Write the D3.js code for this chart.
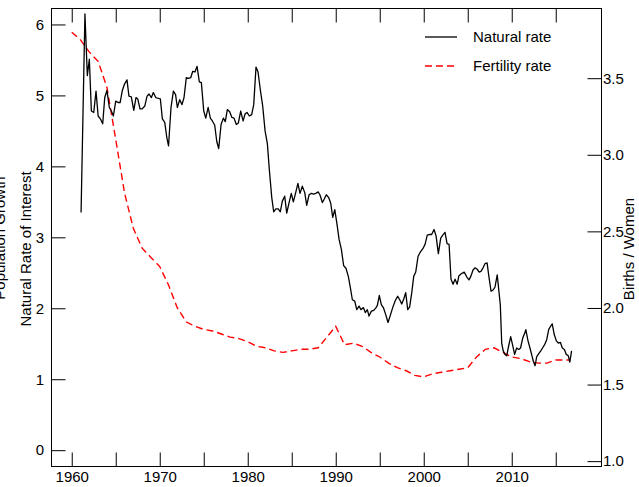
<!DOCTYPE html>
<html><head><meta charset="utf-8">
<script src="https://cdn.jsdelivr.net/npm/d3@7"></script>
<style>body{margin:0;background:#fff}svg{display:block}</style>
</head><body><svg id="c" width="639" height="487"></svg>
<script>
// ---- data ----
const natural = [
[1961.06,3.35],[1961.5,6.15],[1961.77,5.28],[1962.0,5.51],[1962.23,4.78],[1962.5,4.76],[1962.76,5.06],[1963.0,4.71],[1963.25,4.67],[1963.52,4.60],[1963.75,4.97],[1964.0,5.07],[1964.27,4.83],[1964.5,4.78],[1964.73,4.71],[1965.0,4.92],[1965.26,4.90],[1965.5,4.90],[1965.75,5.07],[1966.0,5.16],[1966.28,5.22],[1966.5,4.99],[1966.77,4.98],[1967.05,4.79],[1967.3,4.97],[1967.5,4.95],[1967.76,4.81],[1968.0,4.81],[1968.3,4.85],[1968.56,4.99],[1968.78,5.02],[1969.05,4.97],[1969.27,5.04],[1969.55,4.97],[1969.8,4.96],[1970.07,4.95],[1970.3,4.67],[1970.57,4.62],[1970.8,4.41],[1971.0,4.29],[1971.28,4.83],[1971.55,5.06],[1971.8,5.01],
[1972.0,4.83],[1972.27,4.94],[1972.53,4.87],[1972.76,4.97],[1973.02,5.25],[1973.25,5.24],[1973.52,5.25],[1973.75,5.34],[1974.0,5.33],[1974.24,5.41],[1974.5,5.19],[1974.73,5.18],[1975.0,4.78],[1975.23,4.68],[1975.5,4.83],[1975.75,4.68],[1975.98,4.64],[1976.25,4.58],[1976.48,4.35],[1976.7,4.25],[1976.97,4.59],[1977.23,4.68],[1977.45,4.63],[1977.68,4.80],[1977.95,4.77],[1978.2,4.69],[1978.44,4.68],[1978.7,4.59],[1978.93,4.61],[1979.2,4.78],[1979.47,4.64],[1979.7,4.74],[1979.92,4.76],[1980.18,4.71],[1980.45,4.73],[1980.68,4.87],[1980.94,5.40],[1981.17,5.33],[1981.43,5.08],[1981.7,4.85],[1981.97,4.50],[1982.23,4.32],[1982.45,3.96],[1982.73,3.56],[1982.95,3.36],[1983.2,3.40],[1983.47,3.40],[1983.7,3.36],[1983.93,3.51],[1984.2,3.58],[1984.43,3.34],
[1984.7,3.49],[1984.95,3.62],[1985.18,3.50],[1985.45,3.63],[1985.7,3.76],[1985.94,3.62],[1986.2,3.72],[1986.48,3.63],[1986.7,3.45],[1986.97,3.60],[1987.23,3.62],[1987.5,3.61],[1987.73,3.62],[1988.0,3.64],[1988.2,3.60],[1988.48,3.49],[1988.7,3.54],[1988.93,3.60],[1989.2,3.56],[1989.43,3.48],[1989.66,3.28],[1989.89,3.39],[1990.15,3.18],[1990.38,2.97],[1990.64,2.83],[1990.9,2.60],[1991.17,2.56],[1991.43,2.45],[1991.66,2.29],[1991.89,2.12],[1992.16,2.10],[1992.39,1.98],[1992.65,2.03],[1992.87,1.98],[1993.14,2.01],[1993.36,1.94],[1993.59,1.98],[1993.78,1.89],[1994.05,1.96],[1994.32,1.97],[1994.58,2.01],[1994.73,2.04],[1994.95,2.18],[1995.18,2.05],[1995.41,2.01],[1995.68,1.91],[1995.94,1.80],
[1996.2,1.90],[1996.5,2.02],[1996.77,2.11],[1997.04,2.17],[1997.27,2.12],[1997.5,2.06],[1997.73,2.13],[1997.95,2.22],[1998.18,1.98],[1998.4,2.02],[1998.64,2.22],[1998.86,2.45],[1999.09,2.51],[1999.35,2.73],[1999.6,2.79],[1999.9,2.84],[2000.15,2.90],[2000.4,3.03],[2000.68,3.04],[2000.9,3.04],[2001.17,3.11],[2001.4,3.02],[2001.66,2.77],[2001.93,2.99],[2002.16,3.03],[2002.42,3.07],[2002.65,2.91],[2002.88,2.90],[2003.1,2.41],[2003.33,2.34],[2003.56,2.41],[2003.8,2.34],[2004.0,2.46],[2004.3,2.49],[2004.6,2.51],[2004.9,2.44],[2005.15,2.40],[2005.38,2.46],[2005.6,2.54],[2005.84,2.57],[2006.07,2.55],[2006.3,2.51],[2006.5,2.52],[2006.74,2.57],[2006.97,2.63],[2007.2,2.64],[2007.4,2.45],[2007.65,2.24],[2007.9,2.26],[2008.1,2.30],[2008.35,2.47],
[2008.7,2.05],[2008.86,1.51],[2009.03,1.40],[2009.23,1.35],[2009.43,1.33],[2009.6,1.44],[2009.88,1.60],[2010.1,1.48],[2010.33,1.35],[2010.56,1.44],[2010.8,1.42],[2011.0,1.44],[2011.25,1.58],[2011.48,1.65],[2011.6,1.70],[2011.85,1.54],[2012.07,1.44],[2012.3,1.33],[2012.46,1.25],[2012.65,1.19],[2012.84,1.32],[2013.07,1.36],[2013.3,1.40],[2013.5,1.44],[2013.75,1.49],[2013.98,1.56],[2014.2,1.70],[2014.43,1.75],[2014.6,1.78],[2014.83,1.63],[2015.07,1.54],[2015.3,1.51],[2015.52,1.52],[2015.75,1.44],[2015.98,1.42],[2016.2,1.35],[2016.43,1.33],[2016.6,1.24],[2016.8,1.40]
];
const fertYears = [1960,1961,1962,1963,1964,1965,1966,1967,1968,1969,1970,1971,1972,1973,1974,1975,1976,1977,1978,1979,1980,1981,1982,1983,1984,1985,1986,1987,1988,1989,1990,1991,1992,1993,1994,1995,1996,1997,1998,1999,2000,2001,2002,2003,2004,2005,2006,2007,2008,2009,2010,2011,2012,2013,2014,2015,2016.6];
const fertility = [3.80,3.75,3.67,3.61,3.44,3.10,2.75,2.52,2.39,2.33,2.27,2.15,2.00,1.91,1.88,1.86,1.85,1.83,1.81,1.80,1.78,1.75,1.74,1.72,1.71,1.72,1.73,1.73,1.74,1.81,1.88,1.76,1.77,1.75,1.71,1.68,1.64,1.61,1.59,1.56,1.55,1.57,1.58,1.59,1.60,1.61,1.68,1.73,1.74,1.71,1.68,1.67,1.65,1.64,1.64,1.66,1.66];
const xTicks = [1960,1965,1970,1975,1980,1985,1990,1995,2000,2005,2010,2015];
const xLabels = [1960,1970,1980,1990,2000,2010];
const leftTicks = [0,1,2,3,4,5,6];
const rightTicks = [1.0,1.5,2.0,2.5,3.0,3.5];
const seriesNames = ["Natural rate","Fertility rate"];
const leftTitle = "Natural Rate of Interest";
const leftTitle2 = "Population Growth";
const rightTitle = "Births / Women";

// ---- layout ----
const FONT = "'Liberation Sans', Arial, sans-serif";
const L = 51.5, R = 601.5, T = 8.5, B = 466.5, TICK = 14;
const svg = d3.select("#c").style("font-family", FONT);
const x = d3.scaleLinear().domain([1957.7, 2020.2]).range([L, R]);
const yL = d3.scaleLinear().domain([-0.23, 6.225]).range([B, T]);
const yR = d3.scaleLinear().domain([0.965, 3.955]).range([B, T]);

function style(g){
  g.select(".domain").remove();
  g.selectAll(".tick line").attr("stroke", "#000");
  g.selectAll(".tick text").attr("fill", "#000").style("font-size", "15px").style("font-family", FONT);
}
svg.append("g").attr("transform", `translate(0,${B})`)
  .call(d3.axisBottom(x).tickValues(xTicks).tickSizeInner(-TICK).tickSizeOuter(0).tickPadding(4.5)
    .tickFormat(d => xLabels.includes(d) ? String(d) : ""))
  .call(style);
svg.append("g").attr("transform", `translate(0,${T})`)
  .call(d3.axisTop(x).tickValues(xTicks).tickSizeInner(-TICK).tickSizeOuter(0).tickFormat(""))
  .call(style);
svg.append("g").attr("transform", `translate(${L},0)`)
  .call(d3.axisLeft(yL).tickValues(leftTicks).tickSizeInner(-TICK).tickSizeOuter(0).tickPadding(7.5).tickFormat(d3.format("d")))
  .call(style);
svg.append("g").attr("transform", `translate(${R},0)`)
  .call(d3.axisRight(yR).tickValues(rightTicks).tickSizeInner(-TICK).tickSizeOuter(0).tickPadding(1.5).tickFormat(d3.format(".1f")))
  .call(style);

svg.append("rect").attr("x", L).attr("y", T).attr("width", R - L).attr("height", B - T)
  .attr("fill", "none").attr("stroke", "#000").attr("stroke-width", 1);

// lines
svg.append("clipPath").attr("id", "pc").append("rect").attr("x", L).attr("y", T).attr("width", R - L).attr("height", B - T);
const fertData = fertYears.map((yr, i) => [yr, fertility[i]]);
svg.append("path").datum(fertData).attr("clip-path", "url(#pc)")
  .attr("d", d3.line().x(d => x(d[0])).y(d => yR(d[1])))
  .attr("fill", "none").attr("stroke", "#ff0000").attr("stroke-width", 1.4).attr("stroke-dasharray", "7,4");
svg.append("path").datum(natural).attr("clip-path", "url(#pc)")
  .attr("d", d3.line().x(d => x(d[0])).y(d => yL(d[1])))
  .attr("fill", "none").attr("stroke", "#000").attr("stroke-width", 1.3).attr("stroke-linejoin", "round");

// titles
svg.append("text").attr("transform", "translate(31,249) rotate(-90)").attr("text-anchor", "middle")
  .style("font-size", "15px").text(leftTitle);
svg.append("text").attr("transform", "translate(5,238) rotate(-90)").attr("text-anchor", "middle")
  .style("font-size", "15px").text(leftTitle2);
svg.append("text").attr("transform", "translate(634,249) rotate(-90)").attr("text-anchor", "middle")
  .style("font-size", "15px").text(rightTitle);

// legend
const leg = svg.append("g");
const legY = [37, 66];
const legStyles = [{c:"#000", d:null, w:1.3}, {c:"#ff0000", d:"7,4", w:1.4}];
seriesNames.forEach((name, i) => {
  leg.append("line").attr("x1", 425).attr("x2", 457).attr("y1", legY[i]).attr("y2", legY[i])
    .attr("stroke", legStyles[i].c).attr("stroke-width", legStyles[i].w).attr("stroke-dasharray", legStyles[i].d);
  leg.append("text").attr("x", 473).attr("y", legY[i]).attr("dy", "0.35em").style("font-size", "15px").text(name);
});
</script></body></html>
